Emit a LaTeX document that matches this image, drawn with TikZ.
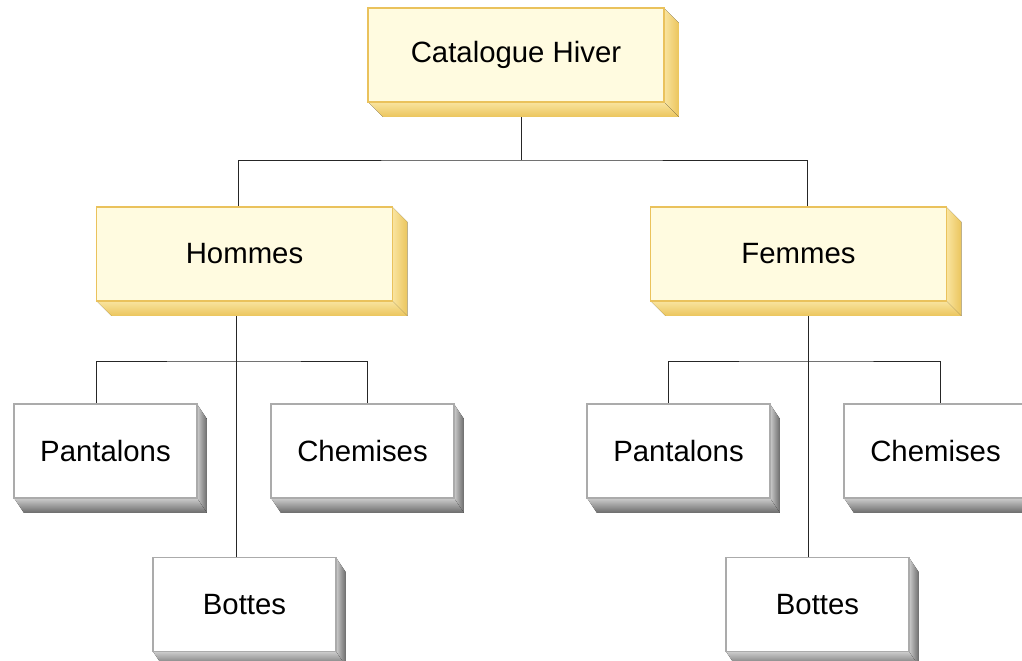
\documentclass[tikz,border=0pt]{standalone}
\usepackage{fontspec}
\setmainfont{Liberation Sans}
\usetikzlibrary{positioning, calc}

\definecolor{catfill}{HTML}{FFFBE0}
\definecolor{catline}{HTML}{EAC25C}
\definecolor{catnear}{HTML}{F9E4A0}
\definecolor{catfar}{HTML}{EBC55C}
\definecolor{itemline}{HTML}{ABABAB}
\definecolor{itemnear}{HTML}{CDCDCD}
\definecolor{itemfar}{HTML}{6A6A6A}

\pgfdeclarelayer{background}
\pgfsetlayers{background,main}

\begin{document}
\begin{tikzpicture}[
    x=0.02cm,y=-0.02cm,
    category/.style={draw=catline, fill=catfill, line width=0.9pt, rectangle, inner sep=0pt, outer sep=0pt, minimum width=5.92cm, minimum height=1.88cm, align=center, font=\fontsize{16.7}{20}\selectfont},
    item/.style={draw=itemline, fill=white, line width=0.9pt, rectangle, inner sep=0pt, outer sep=0pt, minimum width=3.66cm, minimum height=1.88cm, align=center, font=\fontsize{16.7}{20}\selectfont},
    link/.style={draw=black!85, line width=0.45pt}
]
    \clip (0,0) rectangle (1022,660);

    % --- Catalogue and categories ---
    \node[category] (root) at (516,55) {Catalogue Hiver};
    \node[category] (hommes) at (244.5,254) {Hommes};
    \node[category] (femmes) at (798.5,254) {Femmes};

    % --- Articles for Hommes ---
    \node[item] (pantH) at (105.5,451) {Pantalons};
    \node[item] (chemH) at (362.5,451) {Chemises};
    \node[item] (bottesH) at (244.5,604.5) {Bottes};

    % --- Articles for Femmes ---
    \node[item] (pantF) at (678.5,451) {Pantalons};
    \node[item] (chemF) at (935.5,451) {Chemises};
    \node[item] (bottesF) at (817.5,604.5) {Bottes};

    % --- Bus points ---
    \coordinate (rootbus) at (521,160);
    \coordinate (hbus) at (236,361);
    \coordinate (fbus) at (808,361);

    \begin{pgfonlayer}{background}
    % --- Connectors ---
    \draw[link] (root.center -| rootbus) -- (rootbus);
    \draw[link] (hommes.north -| 238,0) |- (rootbus) -| (femmes.north -| 807,0);

    \draw[link] (hommes.center -| hbus) -- (bottesH.north -| hbus);
    \draw[link] (pantH.north -| 96,0) |- (hbus) -| (chemH.north -| 367,0);

    \draw[link] (femmes.center -| fbus) -- (bottesF.north -| fbus);
    \draw[link] (pantF.north -| 668,0) |- (fbus) -| (chemF.north -| 940,0);

    % --- 3D edges ---
    \foreach \n in {root,hommes,femmes} {
        \fill[left color=catnear, right color=catfar] (\n.north east) -- ++(15,15) -- ($(\n.south east)+(15,15)$) -- (\n.south east) -- cycle;
        \fill[top color=catnear, bottom color=catfar] (\n.south west) -- (\n.south east) -- ($(\n.south east)+(15,15)$) -- ($(\n.south west)+(15,15)$) -- cycle;
    }
    \foreach \n in {pantH,chemH,bottesH,pantF,chemF,bottesF} {
        \fill[left color=itemnear, right color=itemfar] (\n.north east) -- ++(10,15) -- ($(\n.south east)+(10,15)$) -- (\n.south east) -- cycle;
        \fill[top color=itemnear, bottom color=itemfar] (\n.south west) -- (\n.south east) -- ($(\n.south east)+(10,15)$) -- ($(\n.south west)+(10,15)$) -- cycle;
    }
    \end{pgfonlayer}
\end{tikzpicture}
\end{document}
